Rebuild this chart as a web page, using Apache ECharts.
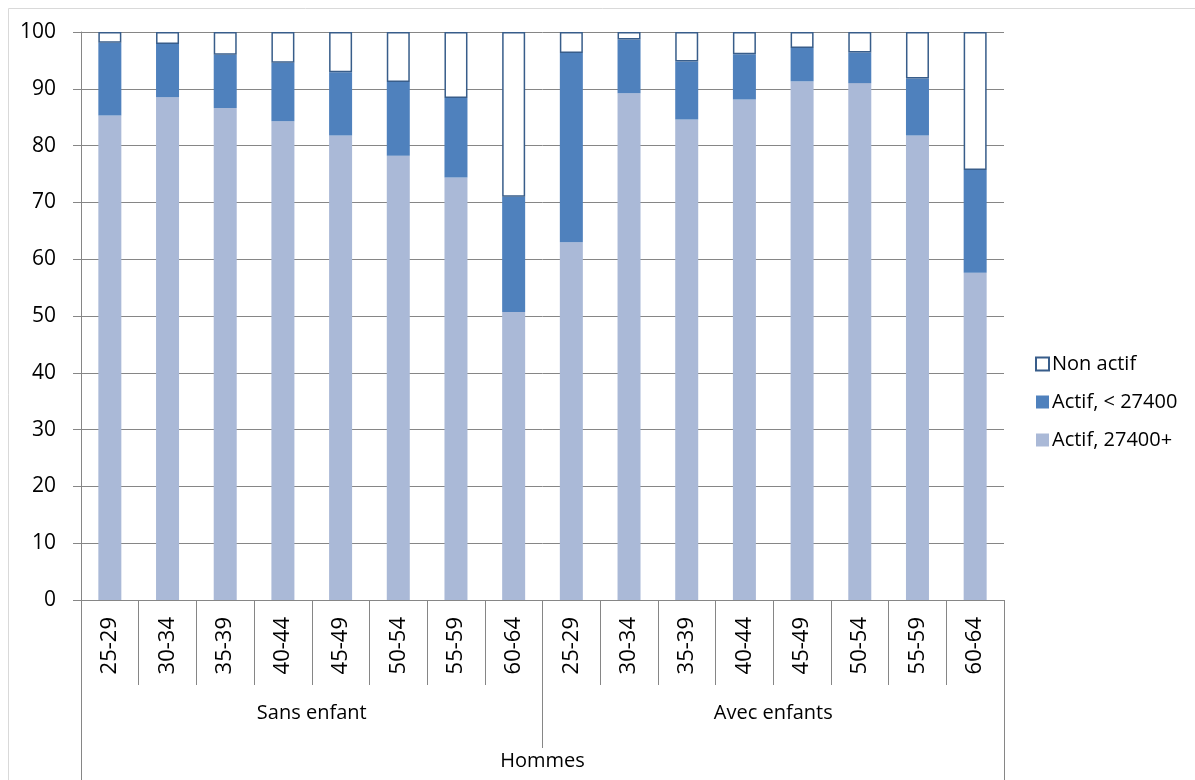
<!DOCTYPE html>
<html>
<head>
<meta charset="utf-8">
<script src="https://cdn.jsdelivr.net/npm/echarts@6/dist/echarts.min.js"></script>
<style>
  html, body { margin: 0; padding: 0; background: #fff; }
  #chart { width: 1195px; height: 780px; }
</style>
</head>
<body>
<div id="chart"></div>
<script>
// age bands, repeated for both groups
const ages = ['25-29', '30-34', '35-39', '40-44', '45-49', '50-54', '55-59', '60-64',
              '25-29', '30-34', '35-39', '40-44', '45-49', '50-54', '55-59', '60-64']
const groups = ['Sans enfant', 'Avec enfants']
const sexes = ['Hommes']
const yTicks = [0, 100, 10] // min, max, step

// values in %
const actifHaut = [85.3, 88.5, 86.6, 84.3, 81.8, 78.2, 74.4, 50.7,
                   63.0, 89.2, 84.6, 88.1, 91.3, 91.0, 81.8, 57.6]
const actifBas = [12.8, 9.4, 9.4, 10.3, 11.1, 13.0, 14.0, 20.3,
                  33.3, 9.5, 10.2, 8.0, 5.9, 5.4, 10.0, 18.1]
const nonActif = [1.9, 2.1, 4.0, 5.4, 7.1, 8.8, 11.6, 29.0,
                  3.7, 1.3, 5.2, 3.9, 2.8, 3.6, 8.2, 24.3]

const font = 'Open Sans'
const grey = '#868686'

const chart = echarts.init(document.getElementById('chart'))

const option = {
  animation: false,
  textStyle: { fontFamily: font, color: '#000' },
  graphic: [{
    type: 'rect',
    shape: { x: 8.5, y: 8.5, width: 1200, height: 800 },
    style: { fill: 'none', stroke: '#d9d9d9', lineWidth: 1 }
  }],
  grid: { left: 81, right: 191, top: 32, bottom: 180 },
  legend: {
    orient: 'vertical',
    left: 1030,
    top: 349,
    icon: 'rect',
    itemWidth: 13,
    itemHeight: 13,
    itemGap: 18,
    data: ['Non actif', 'Actif, < 27400', 'Actif, 27400+'],
    textStyle: { fontFamily: font, fontSize: 20, color: '#000', padding: [0, 0, 0, -2] }
  },
  xAxis: [
    {
      type: 'category',
      position: 'bottom',
      data: ages,
      axisLine: { show: true, lineStyle: { color: grey } },
      axisTick: { show: true, length: 85, lineStyle: { color: grey } },
      axisLabel: { rotate: 90, margin: 17, interval: 0, fontSize: 22, color: '#000', fontFamily: font }
    },
    {
      type: 'category',
      position: 'bottom',
      data: groups,
      axisLine: { show: false },
      axisTick: { show: true, length: 148, lineStyle: { color: grey } },
      axisLabel: { margin: 103, fontSize: 20, color: '#000', fontFamily: font }
    },
    {
      type: 'category',
      position: 'bottom',
      data: sexes,
      axisLine: { show: false },
      axisTick: { show: true, length: 200, lineStyle: { color: grey } },
      axisLabel: { margin: 151, fontSize: 20, color: '#000', fontFamily: font }
    }
  ],
  yAxis: {
    type: 'value',
    min: yTicks[0],
    max: yTicks[1],
    interval: yTicks[2],
    axisLine: { show: true, lineStyle: { color: grey } },
    axisTick: { show: true, length: 8, lineStyle: { color: grey } },
    splitLine: { lineStyle: { color: grey } },
    axisLabel: { margin: 25, fontSize: 21, color: '#000', fontFamily: font }
  },
  series: [
    {
      name: 'Actif, 27400+',
      type: 'bar',
      stack: 'total',
      barWidth: 23,
      data: actifHaut,
      itemStyle: { color: '#aab9d7' }
    },
    {
      name: 'Actif, < 27400',
      type: 'bar',
      stack: 'total',
      barWidth: 23,
      data: actifBas,
      itemStyle: { color: '#4f81bd' }
    },
    {
      name: 'Non actif',
      type: 'bar',
      stack: 'total',
      barWidth: 23,
      data: nonActif,
      itemStyle: { color: '#ffffff', borderColor: '#385d8a', borderWidth: 1.5 }
    }
  ]
}

chart.setOption(option)
</script>
</body>
</html>
